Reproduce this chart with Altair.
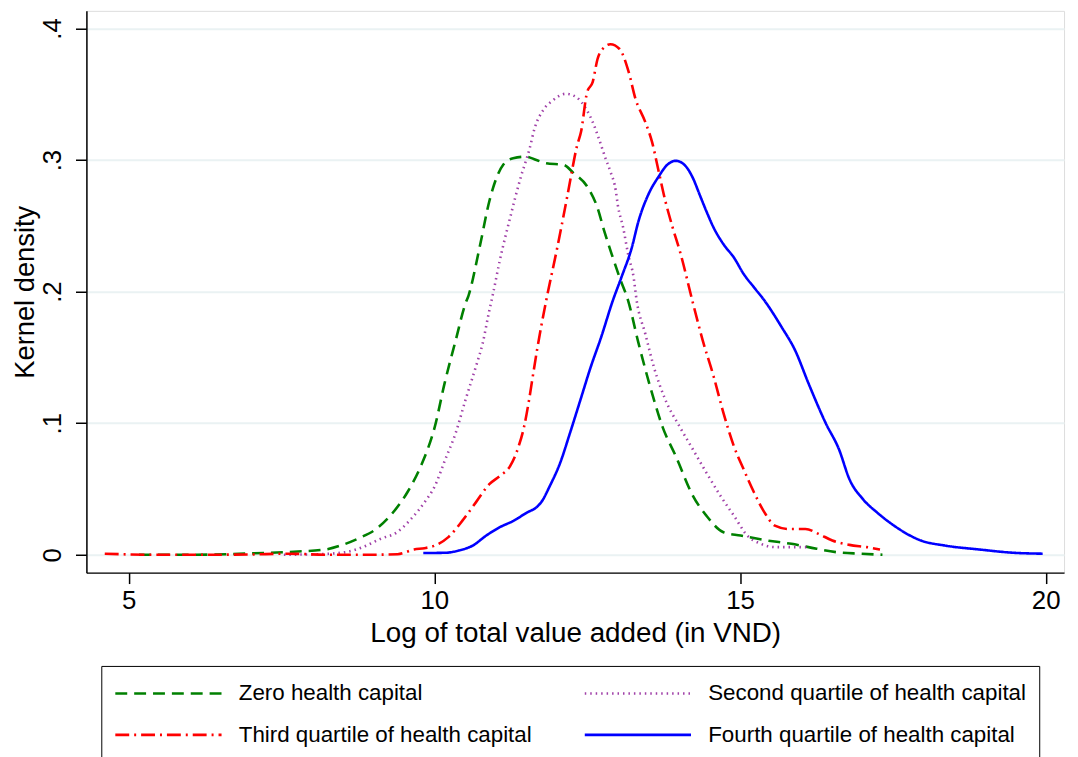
import altair as alt
import pandas as pd

series_names = [
    "Zero health capital",
    "Second quartile of health capital",
    "Third quartile of health capital",
    "Fourth quartile of health capital",
]

zero_x = [5.17, 6.0, 7.0, 7.70, 8.22, 8.50, 8.78, 9.05, 9.28, 9.56, 9.78, 10.01, 10.17, 10.35, 10.51, 10.56,
          10.74, 10.90, 10.96, 11.13, 11.29, 11.50, 11.67, 11.83, 12.11, 12.28, 12.50, 12.67, 12.78, 12.92,
          13.03, 13.17, 13.34, 13.56, 13.73, 13.95, 14.23, 14.45, 14.73, 15.01, 15.45, 15.84, 16.12, 16.57,
          16.96, 17.33]
zero_y = [0.000, 0.000, 0.001, 0.0023, 0.004, 0.0075, 0.0128, 0.0196, 0.0297, 0.0475, 0.0674, 0.0976, 0.1306,
          0.163, 0.191, 0.197, 0.2334, 0.2687, 0.2787, 0.2966, 0.3014, 0.3026, 0.300, 0.2976, 0.2964, 0.290,
          0.280, 0.2636, 0.246, 0.2259, 0.2108, 0.1932, 0.1608, 0.123, 0.0976, 0.0749, 0.0448, 0.0297, 0.0171,
          0.0146, 0.0108, 0.0083, 0.0058, 0.002, 0.0008, 0.000]

second_x = [7.54, 8.10, 8.55, 8.83, 9.12, 9.39, 9.62, 9.84, 10.01, 10.18, 10.35, 10.51, 10.68, 10.79, 10.90,
            10.96, 11.07, 11.24, 11.41, 11.56, 11.64, 11.78, 11.94, 12.15, 12.32, 12.48, 12.59, 12.69, 12.80,
            12.88, 12.97, 13.00, 13.09, 13.17, 13.26, 13.31, 13.45, 13.59, 13.78, 14.01, 14.23, 14.45, 14.68,
            14.90, 15.12, 15.34, 15.57, 15.90, 16.12]
second_y = [0.000, 0.0004, 0.002, 0.0058, 0.0121, 0.0171, 0.0272, 0.0398, 0.0523, 0.0725, 0.0926, 0.1177,
            0.1429, 0.1605, 0.1857, 0.1983, 0.2234, 0.2561, 0.2863, 0.3089, 0.324, 0.3379, 0.3454, 0.3504,
            0.3479, 0.3391, 0.329, 0.3165, 0.3014, 0.2913, 0.2762, 0.2662, 0.2485, 0.2285, 0.2108, 0.1932,
            0.1681, 0.1429, 0.1177, 0.0976, 0.080, 0.0624, 0.0448, 0.0297, 0.0146, 0.0083, 0.0058, 0.0058, 0.0058]

third_x = [4.61, 5.34, 6.15, 6.96, 7.61, 8.26, 8.91, 9.40, 9.67, 9.84, 10.01, 10.23, 10.46, 10.68, 10.90, 11.07,
           11.24, 11.38, 11.47, 11.55, 11.61, 11.68, 11.83, 12.00, 12.18, 12.25, 12.33, 12.40, 12.50, 12.59,
           12.67, 12.78, 12.88, 13.03, 13.18, 13.29, 13.45, 13.56, 13.67, 13.78, 13.90, 14.03, 14.22, 14.39,
           14.57, 14.73, 14.90, 15.06, 15.23, 15.40, 15.57, 15.79, 16.07, 16.29, 16.51, 16.79, 17.07, 17.29]
third_y = [0.0008, 0.000, 0.000, 0.0002, 0.0008, 0.000, 0.000, 0.0004, 0.004, 0.005, 0.007, 0.0134, 0.0259,
           0.0398, 0.0536, 0.0598, 0.0674, 0.0825, 0.0976, 0.1177, 0.1353, 0.1555, 0.1932, 0.2309, 0.2737,
           0.2913, 0.310, 0.3215, 0.3517, 0.3592, 0.3768, 0.3857, 0.388, 0.3844, 0.3668, 0.3466, 0.329, 0.314,
           0.2913, 0.2687, 0.2485, 0.2285, 0.1932, 0.163, 0.1353, 0.1077, 0.0825, 0.0649, 0.0473, 0.0322,
           0.0221, 0.0196, 0.0196, 0.0158, 0.0108, 0.0075, 0.0058, 0.004]

fourth_x = [9.82, 10.18, 10.40, 10.63, 10.85, 11.07, 11.30, 11.52, 11.67, 11.75, 11.89, 12.06, 12.22, 12.39,
            12.56, 12.73, 12.92, 13.06, 13.23, 13.34, 13.50, 13.67, 13.81, 13.95, 14.09, 14.23, 14.34, 14.45,
            14.57, 14.73, 14.90, 15.06, 15.23, 15.40, 15.68, 15.90, 16.12, 16.40, 16.62, 16.79, 17.01, 17.24,
            17.52, 17.96, 18.35, 18.91, 19.47, 19.95]
fourth_y = [0.0013, 0.0015, 0.0032, 0.007, 0.0146, 0.0209, 0.0259, 0.0322, 0.036, 0.040, 0.0523, 0.070, 0.0926,
            0.1177, 0.1429, 0.1655, 0.1932, 0.2108, 0.2334, 0.2536, 0.2737, 0.2875, 0.2964, 0.2994, 0.2964,
            0.2863, 0.2737, 0.2611, 0.2485, 0.236, 0.2259, 0.2134, 0.2032, 0.1932, 0.1731, 0.1555, 0.1303,
            0.1002, 0.080, 0.0574, 0.0423, 0.0322, 0.0221, 0.0108, 0.007, 0.004, 0.0015, 0.0008]

x_ticks = [5, 10, 15, 20]
y_ticks = [0, 0.1, 0.2, 0.3, 0.4]

rows = []
for order, (name, xs, ys) in enumerate(zip(series_names,
                                           [zero_x, second_x, third_x, fourth_x],
                                           [zero_y, second_y, third_y, fourth_y])):
    for xv, yv in zip(xs, ys):
        rows.append({"group": name, "order": order, "x": xv, "y": yv})
df = pd.DataFrame(rows)

FONT = "Liberation Sans"

colors = ["#008000", "#A040A8", "#FF0000", "#0000FF"]
dashes = [[12, 7], [1.5, 4], [14, 5, 2, 5], [1, 0]]

chart = alt.Chart(df).mark_line(strokeWidth=2.6, interpolate="monotone").encode(
    x=alt.X("x:Q",
            scale=alt.Scale(domain=[4.31, 20.3], nice=False, zero=False),
            axis=alt.Axis(values=x_ticks, title="Log of total value added (in VND)", grid=False,
                          labelFontSize=26, titleFontSize=28, labelFont=FONT, titleFont=FONT,
                          labelColor="black", titleColor="black", titleFontWeight="normal",
                          tickSize=11, tickWidth=1.5, tickColor="black", domainColor="black",
                          domainWidth=1.5, labelPadding=4, titlePadding=6)),
    y=alt.Y("y:Q",
            scale=alt.Scale(domain=[-0.0136, 0.4134], nice=False, zero=False),
            axis=alt.Axis(values=y_ticks, title="Kernel density", grid=True,
                          gridColor="#EAF2F3", gridWidth=2,
                          labelExpr="datum.value == 0 ? '0' : '.' + round(datum.value * 10)",
                          labelAngle=270, labelAlign="center", labelBaseline="bottom",
                          labelFontSize=26, titleFontSize=27.5, labelFont=FONT, titleFont=FONT,
                          labelColor="black", titleColor="black", titleFontWeight="normal",
                          tickSize=11, tickWidth=1.5, tickColor="black", domainColor="black",
                          domainWidth=1.5, labelPadding=10, titlePadding=0)),
    color=alt.Color("group:N",
                    scale=alt.Scale(domain=series_names, range=colors),
                    legend=alt.Legend(title=None, orient="none", legendX=15, legendY=660,
                                      direction="horizontal",
                                      columns=2, gridAlign="all", symbolType="M-1,0H7",
                                      symbolSize=716, symbolStrokeWidth=2.6,
                                      labelFontSize=22.5, labelFont=FONT, labelColor="black",
                                      labelOffset=96, labelLimit=600, columnPadding=22,
                                      rowPadding=15, padding=12.5, strokeColor="black")),
    strokeDash=alt.StrokeDash("group:N",
                              scale=alt.Scale(domain=series_names, range=dashes),
                              legend=None),
    order=alt.Order("order:Q"),
    detail="group:N",
).properties(
    width=985,
    height=566,
    autosize=alt.AutoSizeParams(type="none"),
    padding={"left": 79, "top": 0, "right": 6, "bottom": 200},
).configure_view(stroke=None).configure(background="white")

chart.save("out.html", embed_options={"renderer": "svg", "actions": False})
